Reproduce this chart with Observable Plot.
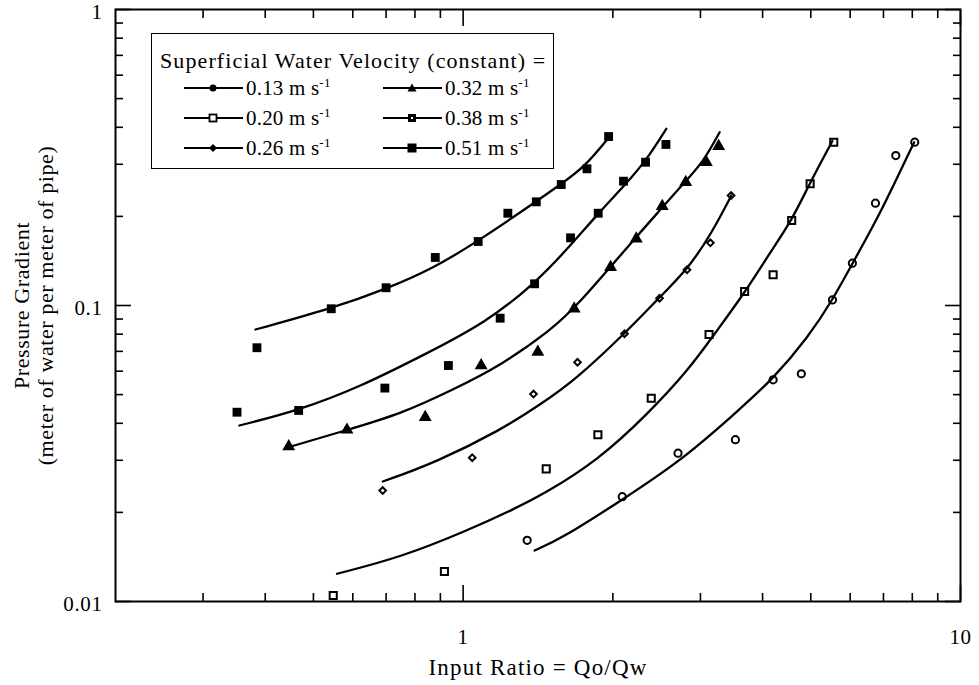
<!DOCTYPE html>
<html>
<head>
<meta charset="utf-8">
<script src="https://cdn.jsdelivr.net/npm/d3@7"></script>
<script src="https://cdn.jsdelivr.net/npm/@observablehq/plot@0.6"></script>
<style>
  html, body { margin: 0; padding: 0; background: #fff; }
  #wrap { position: relative; width: 979px; height: 685px; font-family: "Liberation Serif", "Times New Roman", serif; color: #000; }
  #legend { position: absolute; left: 151px; top: 33px; width: 403px; height: 136px; box-sizing: border-box;
            border: 1.5px solid #000; background: #fff; }
  #legend .ltitle { position: absolute; left: 8px; top: 14px; font-size: 22px; letter-spacing: 1.1px; line-height: 26px; white-space: nowrap; }
  #legend .item { position: absolute; height: 24px; display: flex; align-items: center; white-space: nowrap; font-size: 21px; letter-spacing: 0.2px; }
  #legend .item svg { margin-right: 2px; }
  #legend sup { font-size: 13px; vertical-align: 0; position: relative; top: -8px; }
  svg text { letter-spacing: 0.6px; fill: #000; }
</style>
</head>
<body>
<div id="wrap">
  <div id="chart"></div>
  <div id="legend"></div>
</div>
<script>
// ---- Data ----
const velocities = ["0.13", "0.20", "0.26", "0.32", "0.38", "0.51"];

// measured points: input ratio Qo/Qw and pressure gradient
const ratio013 = [1.345, 2.089, 2.704, 3.527, 4.20, 4.786, 5.527, 6.062, 6.745, 7.411, 8.091];
const grad013  = [0.0161, 0.0226, 0.0317, 0.0352, 0.0561, 0.0588, 0.1044, 0.139, 0.2216, 0.3211, 0.3562];
const ratio020 = [0.548, 0.917, 1.469, 1.866, 2.389, 3.122, 3.681, 4.20, 4.577, 4.985, 5.561];
const grad020  = [0.01048, 0.01263, 0.02806, 0.03657, 0.04861, 0.0798, 0.1115, 0.127, 0.1937, 0.2577, 0.3562];
const ratio026 = [0.689, 1.043, 1.385, 1.698, 2.111, 2.483, 2.819, 3.141, 3.457];
const grad026  = [0.0237, 0.0306, 0.0502, 0.0643, 0.0803, 0.1058, 0.132, 0.1628, 0.2352];
const ratio032 = [0.446, 0.584, 0.839, 1.087, 1.413, 1.672, 1.979, 2.229, 2.514, 2.802, 3.083, 3.264];
const grad032  = [0.0334, 0.0380, 0.0419, 0.0627, 0.0696, 0.0975, 0.1347, 0.168, 0.2165, 0.261, 0.3048, 0.3453];
const ratio038 = [0.351, 0.467, 0.696, 0.934, 1.187, 1.392, 1.644, 1.869, 2.101, 2.327, 2.557];
const grad038  = [0.0436, 0.0442, 0.0526, 0.0627, 0.0906, 0.1184, 0.1693, 0.205, 0.263, 0.3048, 0.35];
const ratio051 = [0.385, 0.543, 0.700, 0.879, 1.072, 1.230, 1.403, 1.575, 1.774, 1.961];
const grad051  = [0.072, 0.0975, 0.1148, 0.1453, 0.1645, 0.205, 0.224, 0.2563, 0.2896, 0.3723];

// fitted curves
const fitRatio013 = [1.392, 1.575, 2.079, 2.746, 3.515, 4.20, 4.939, 5.527, 6.062, 6.829, 7.493, 8.069];
const fitGrad013  = [0.01487, 0.01629, 0.02194, 0.02995, 0.04306, 0.05645, 0.07813, 0.1042, 0.1386, 0.1987, 0.2749, 0.3562];
const fitRatio020 = [0.5578, 0.75, 1.022, 1.288, 1.436, 1.866, 2.353, 2.833, 3.203, 3.671, 4.167, 4.585, 4.976, 5.527];
const fitGrad020  = [0.01241, 0.01411, 0.01738, 0.02083, 0.02281, 0.02995, 0.04306, 0.06033, 0.08025, 0.1095, 0.1534, 0.1948, 0.2589, 0.3595];
const fitRatio026 = [0.6894, 0.8756, 1.192, 1.436, 1.675, 2.111, 2.465, 2.833, 3.155, 3.461];
const fitGrad026  = [0.02543, 0.02937, 0.03797, 0.04655, 0.0558, 0.08025, 0.1053, 0.1331, 0.1747, 0.2352];
const fitRatio032 = [0.446, 0.5861, 0.75, 0.946, 1.192, 1.503, 1.675, 2.211, 2.502, 2.788, 3.036, 3.279];
const fitGrad032  = [0.03322, 0.03803, 0.04306, 0.05161, 0.06271, 0.08296, 0.0975, 0.168, 0.2122, 0.261, 0.3048, 0.385];
const fitRatio038 = [0.355, 0.4662, 0.6186, 0.8424, 1.112, 1.392, 1.624, 1.866, 2.111, 2.334, 2.561];
const fitGrad038  = [0.03932, 0.04418, 0.05297, 0.06869, 0.0877, 0.1184, 0.1558, 0.2041, 0.2543, 0.3089, 0.3954];
const fitRatio051 = [0.3824, 0.5427, 0.70, 0.8702, 1.077, 1.403, 1.575, 1.754, 1.967];
const fitGrad051  = [0.08296, 0.0975, 0.1137, 0.1334, 0.1658, 0.2246, 0.2577, 0.2933, 0.3709];

// axis ticks
const xMajorTicks = [1, 10];
const xMinorTicks = [0.3, 0.4, 0.5, 0.6, 0.7, 0.8, 0.9, 2, 3, 4, 5, 6, 7, 8, 9];
const yMajorTicks = [0.01, 0.1, 1];
const yMinorTicks = [0.02, 0.03, 0.04, 0.05, 0.06, 0.07, 0.08, 0.09, 0.2, 0.3, 0.4, 0.5, 0.6, 0.7, 0.8, 0.9];
const xTickLabels = ["1", "10"];
const yTickLabels = ["0.01", "0.1", "1"];
const xTitle = "Input Ratio = Qo/Qw";
const yTitle = "Pressure Gradient\n(meter of water per meter of pipe)";
const legendTitle = "Superficial Water Velocity (constant) =";

// ---- Build ----
const pointSets = [[ratio013, grad013], [ratio020, grad020], [ratio026, grad026], [ratio032, grad032], [ratio038, grad038], [ratio051, grad051]];
const fitSets = [[fitRatio013, fitGrad013], [fitRatio020, fitGrad020], [fitRatio026, fitGrad026], [fitRatio032, fitGrad032], [fitRatio038, fitGrad038], [fitRatio051, fitGrad051]];
const styles = [
  {symbol: "circle", fill: "none", stroke: "black", strokeWidth: 2, r: 3.6},
  {symbol: "square", fill: "none", stroke: "black", strokeWidth: 2, r: 4.0},
  {symbol: "diamond2", fill: "none", stroke: "black", strokeWidth: 2, r: 3.0},
  {symbol: "triangle", fill: "black", stroke: "none", strokeWidth: 0, r: 4.8},
  {symbol: "square", fill: "black", stroke: "none", strokeWidth: 0, r: 5.0},
  {symbol: "square", fill: "black", stroke: "none", strokeWidth: 0, r: 5.0}
];

const fitTable = velocities.flatMap((v, k) => fitSets[k][0].map((x, i) => ({v, x, y: fitSets[k][1][i]})));
const dotMarks = velocities.map((v, k) => {
  const rows = pointSets[k][0].map((x, i) => ({v, x, y: pointSets[k][1][i]}));
  return Plot.dot(rows, {x: "x", y: "y", ...styles[k]});
});

const tickStyle = {fill: "none", label: null, stroke: "black", strokeWidth: 1.6};
const chart = Plot.plot({
  width: 979,
  height: 685,
  marginLeft: 115,
  marginRight: 19,
  marginTop: 9,
  marginBottom: 84,
  x: {type: "log", domain: [0.2, 10]},
  y: {type: "log", domain: [0.01, 1]},
  style: {fontFamily: "Liberation Serif, Times New Roman, serif", fontSize: "21px", background: "white", color: "black"},
  marks: [
    Plot.axisX(xMajorTicks, {anchor: "bottom", tickSize: -16, ...tickStyle}),
    Plot.axisX(xMinorTicks, {anchor: "bottom", tickSize: -8, ...tickStyle}),
    Plot.axisX(xMajorTicks, {anchor: "top", tickSize: -16, ...tickStyle}),
    Plot.axisX(xMinorTicks, {anchor: "top", tickSize: -8, ...tickStyle}),
    Plot.axisY(yMajorTicks, {anchor: "left", tickSize: -16, ...tickStyle}),
    Plot.axisY(yMinorTicks, {anchor: "left", tickSize: -8, ...tickStyle}),
    Plot.axisY(yMajorTicks, {anchor: "right", tickSize: -16, ...tickStyle}),
    Plot.axisY(yMinorTicks, {anchor: "right", tickSize: -8, ...tickStyle}),
    Plot.frame({stroke: "black", strokeWidth: 2}),
    Plot.line(fitTable, {x: "x", y: "y", z: "v", curve: "basis", stroke: "black", strokeWidth: 2.3}),
    ...dotMarks,
    Plot.text(xMajorTicks, {x: d => d, frameAnchor: "bottom", dy: 36, lineAnchor: "middle", textAnchor: "middle", text: (d, i) => xTickLabels[i], fontSize: 21, fill: "black"}),
    Plot.text(yMajorTicks, {y: d => d, frameAnchor: "left", dx: -13, dy: 3, textAnchor: "end", lineAnchor: "middle", text: (d, i) => yTickLabels[i], fontSize: 21, fill: "black"}),
    Plot.text([xTitle], {frameAnchor: "bottom", dy: 66, lineAnchor: "middle", textAnchor: "middle", text: d => d, fontSize: 23, fill: "black"}),
    Plot.text([yTitle], {frameAnchor: "left", dx: -82, rotate: -90, textAnchor: "middle", lineAnchor: "middle", text: d => d, fontSize: 22, lineHeight: 1.07, fill: "black"})
  ]
});
document.getElementById("chart").appendChild(chart);
chart.querySelectorAll("text").forEach(el => {
  if (el.textContent.includes("Input")) el.style.letterSpacing = "1.2px";
});

// ---- Legend ----
const legendSymbols = [
  '<circle cx="29" cy="8" r="3.5" fill="black"/>',
  '<rect x="25.5" y="4.5" width="7" height="7" fill="white" stroke="black" stroke-width="1.8"/>',
  '<path d="M29,4 L33,8 L29,12 L25,8Z" fill="black"/>',
  '<path d="M29,3.5 L33.5,11.5 L24.5,11.5Z" fill="black"/>',
  '<rect x="25" y="4" width="8" height="8" fill="black"/><rect x="28" y="7" width="2" height="2" fill="white"/>',
  '<rect x="24.5" y="3.5" width="9" height="9" fill="black"/>'
];
const legend = document.getElementById("legend");
const t = document.createElement("div");
t.className = "ltitle";
t.textContent = legendTitle;
legend.appendChild(t);
velocities.forEach((v, k) => {
  const col = k < 3 ? 0 : 1, row = k % 3;
  const d = document.createElement("div");
  d.className = "item";
  d.style.left = (col === 0 ? 32 : 231) + "px";
  d.style.top = (42 + row * 30) + "px";
  d.innerHTML = `<svg width="60" height="16" viewBox="0 0 60 16"><line x1="0" y1="8" x2="59" y2="8" stroke="black" stroke-width="2"/>${legendSymbols[k]}</svg><span>${v} m s<sup>-1</sup></span>`;
  legend.appendChild(d);
});
</script>
</body>
</html>
